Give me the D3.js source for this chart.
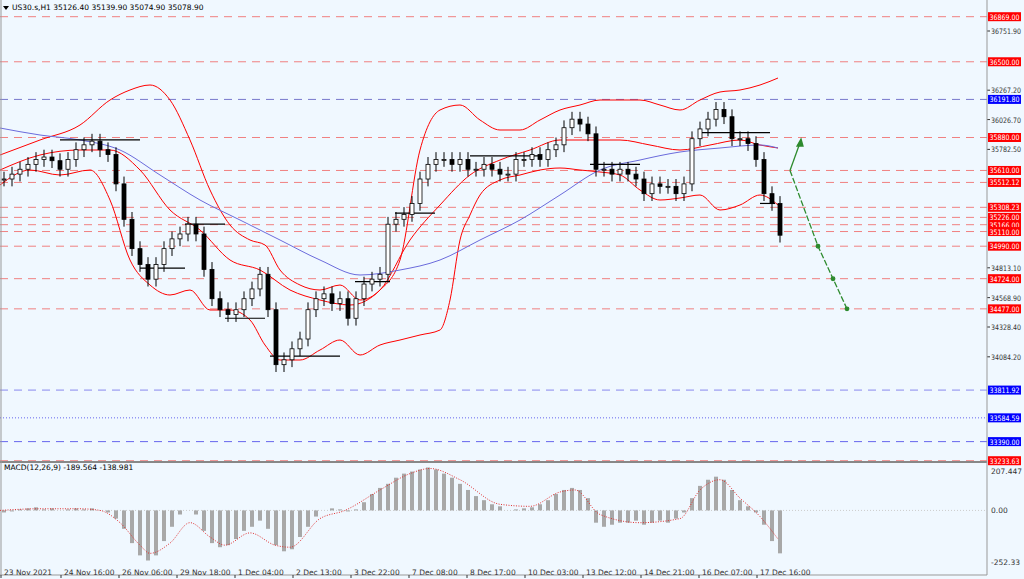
<!DOCTYPE html><html><head><meta charset="utf-8"><script src="https://cdn.jsdelivr.net/npm/d3@7"></script>
<style>body{margin:0;background:#f0f8ff}svg{display:block;font-family:Tahoma,"DejaVu Sans",sans-serif}</style></head><body><svg id="c" width="1024" height="579"></svg><script>
// ---- data ----
const barIdx = d3.range(0, 98);
const closes = [35540,35580,35620,35660,35700,35720,35690,35620,35700,35780,35820,35850,35780,35740,35500,35210,34970,34840,34720,34840,34970,35050,35090,35170,35090,34800,34560,34470,34430,34470,34560,34640,34760,34470,34020,34060,34150,34230,34470,34560,34600,34520,34560,34400,34560,34680,34720,34760,35170,35210,35250,35340,35540,35660,35700,35700,35660,35700,35620,35620,35660,35620,35580,35580,35700,35700,35740,35700,35780,35820,35960,36030,35990,35910,35620,35620,35580,35620,35580,35540,35420,35500,35480,35480,35420,35500,35870,35950,36030,36110,36050,35870,35870,35830,35700,35420,35340,35080];
const bbUpper = [[0,155],[40,140],[80,125],[110,100],[130,90],[150,85],[170,100],[190,140],[210,190],[230,225],[250,240],[265,245],[280,270],[300,285],[320,290],[340,285],[360,300],[380,290],[400,260],[420,150],[440,110],[460,105],[480,120],[500,130],[520,130],[540,120],[560,110],[580,105],[600,100],[620,100],[640,100],[660,105],[680,110],[700,100],[720,92],[740,90],[760,85],[778,78]];
const bbLower = [[0,185],[30,170],[60,175],[90,170],[110,200],[130,260],[150,285],[170,295],[190,290],[210,310],[230,310],[250,320],[265,345],[280,360],[300,360],[320,350],[340,340],[360,355],[380,345],[400,340],[420,335],[440,330],[450,300],[460,240],[470,215],[480,195],[500,180],[520,175],[540,170],[560,168],[580,170],[600,172],[620,175],[640,190],[660,200],[680,198],[700,195],[720,210],[740,205],[760,195],[778,205]];
const bbMid = [[0,170],[40,155],[80,150],[110,150],[140,170],[170,210],[200,230],[230,260],[260,270],[290,290],[320,300],[350,305],[380,290],[410,240],[440,205],[470,175],[500,160],[530,150],[560,140],[590,140],[620,140],[650,145],[680,150],[710,145],[740,140],[760,145],[778,148]];
const maBlue = [[0,128],[40,135],[80,140],[120,150],[160,175],[200,200],[240,220],[280,240],[320,260],[360,275],[400,270],[440,260],[480,240],[520,220],[560,195],[600,170],[640,160],[680,152],[720,148],[760,145],[778,148]];
const fractals = [[60,140,35860],[140,185,34810],[185,225,35170],[225,265,34400],[270,340,34090],[355,390,34700],[395,435,35260],[470,540,35730],[590,640,35660],[700,770,35920],[760,775,35340]];
const levels = [[36869,"#f08080","8,6","#ff0000"],[36500,"#f08080","8,6","#ff0000"],[36191.80,"#7777cc","8,6","#0000ff"],[35880,"#f08080","8,6","#ff0000"],[35610,"#f08080","8,6","#ff0000"],[35512.12,"#f08080","8,6","#ff0000"],[35308.23,"#f08080","8,6","#ff0000"],[35226,"#f08080","8,6","#ff0000"],[35166,"#f08080","8,6","#ff0000"],[35110,"#f08080","8,6","#ff0000"],[34990,"#f08080","8,6","#ff0000"],[34724,"#f08080","8,6","#ff0000"],[34477,"#f08080","8,6","#ff0000"],[33811.92,"#8888ee","8,6","#0000ff"],[33584.59,"#6666ee","1,2","#0000ff"],[33390,"#6666ee","8,6","#0000ff"],[33233.63,"#f08080","8,6","#ff0000"]];
const priceTicks = ["36751.90","36267.20","36026.70","35782.50","34813.10","34568.90","34328.40","34084.20"];
const macdHist = [-10,-5,5,10,15,5,10,0,5,10,5,10,0,-10,-40,-90,-160,-220,-245,-220,-150,-80,-20,0,-20,-100,-160,-180,-170,-140,-100,-80,-50,-90,-170,-200,-190,-130,-80,-30,0,10,5,-5,5,40,80,110,130,160,180,190,200,210,200,180,160,130,100,70,50,30,20,0,5,10,15,30,50,80,100,110,100,60,-60,-80,-70,-60,-60,-50,-70,-60,-50,-60,-40,-10,60,120,150,165,150,100,50,20,-10,-70,-150,-210];
const macdSignal = [[0,0],[40,8],[80,8],[100,0],[120,-60],[140,-170],[150,-210],[170,-160],[190,-60],[210,-130],[225,-170],[250,-110],[275,-170],[290,-180],[320,-40],[345,0],[380,100],[410,180],[430,205],[460,150],[500,30],[530,20],[560,90],[575,100],[600,-20],[640,-60],[680,-40],[700,100],[720,150],[740,60],[760,-30],[778,-140]];
const dateLabels = [["23 Nov 2021",0],["24 Nov 16:00",60],["26 Nov 06:00",118],["29 Nov 18:00",176],["1 Dec 04:00",234],["2 Dec 13:00",292],["3 Dec 22:00",350],["7 Dec 08:00",408],["8 Dec 17:00",466],["10 Dec 03:00",524],["13 Dec 12:00",582],["14 Dec 21:00",640],["16 Dec 07:00",698],["17 Dec 16:00",756]];
// ---- scales ----
const svg = d3.select("#c");
const y = d3.scaleLinear().domain([36751.9,34328.4]).range([31,327]);
const pFromPix = d3.scaleLinear().domain([31,327]).range([36751.9,34328.4]);
const x = d3.scaleLinear().domain([0,97]).range([4,780]);
const ym = d3.scaleLinear().domain([207.447,-252.33]).range([468,562]);
const W=987;
svg.append("rect").attr("width",1024).attr("height",579).attr("fill","#f0f8ff");
levels.forEach(l=>{const yy=y(l[0]);
 svg.append("line").attr("x1",0).attr("x2",W).attr("y1",yy).attr("y2",yy).attr("stroke",l[1]).attr("stroke-dasharray",l[2]);
 svg.append("rect").attr("x",W+1).attr("y",yy-4.5).attr("width",33).attr("height",9).attr("fill",l[3]);
 svg.append("text").attr("x",W+2.5).attr("y",yy+3).attr("font-size",7.5).attr("textLength",30).attr("lengthAdjust","spacingAndGlyphs").attr("fill","#fff").text(l[0].toFixed(2));});
priceTicks.forEach(t=>{const yy=y(+t);
 svg.append("line").attr("x1",W).attr("x2",W+3).attr("y1",yy).attr("y2",yy).attr("stroke","#333");
 svg.append("text").attr("x",W+4).attr("y",yy+3).attr("font-size",7.5).attr("textLength",30).attr("lengthAdjust","spacingAndGlyphs").attr("fill","#333").text(t);});
const ln = d3.line().x(d=>d[0]).y(d=>y(pFromPix(d[1]))).curve(d3.curveMonotoneX);
[[bbUpper,"#ff0000"],[bbLower,"#ff0000"],[bbMid,"#ff0000"],[maBlue,"#6b6bdc"]].forEach(s=>svg.append("path").attr("d",ln(s[0])).attr("fill","none").attr("stroke",s[1]).attr("stroke-width",1));
fractals.forEach(f=>svg.append("line").attr("x1",f[0]).attr("x2",f[1]).attr("y1",y(f[2])).attr("y2",y(f[2])).attr("stroke","#000").attr("stroke-width",1.2));
closes.forEach((c,i)=>{const o=i?closes[i-1]:c; const hi=Math.max(o,c)+60, lo=Math.min(o,c)-60; const xx=x(barIdx[i]);
 svg.append("line").attr("x1",xx).attr("x2",xx).attr("y1",y(hi)).attr("y2",y(lo)).attr("stroke","#000");
 svg.append("rect").attr("x",xx-2).attr("width",4).attr("y",y(Math.max(o,c))).attr("height",Math.max(1,Math.abs(y(o)-y(c)))).attr("fill",c>=o?"#fff":"#000").attr("stroke","#000").attr("stroke-width",0.8);});
const g=svg.append("g").attr("stroke","#2e8b2e").attr("stroke-width",1.3).attr("fill","#2e8b2e");
g.append("line").attr("x1",790).attr("y1",y(35610)).attr("x2",801).attr("y2",y(35860));
g.append("path").attr("d","M801,139 l-4,7 l6,0 z");
g.append("polyline").attr("points",[[790,y(35610)],[818,y(34990)],[833,y(34724)],[847,y(34477)]].join(" ")).attr("fill","none").attr("stroke-dasharray","6,2");
[[818,y(34990)],[833,y(34724)],[847,y(34477)]].forEach(p=>g.append("circle").attr("cx",p[0]).attr("cy",p[1]).attr("r",1.8));
svg.append("path").attr("d","M3,6 l6,0 l-3,4 z").attr("fill","#000");
svg.append("text").attr("x",12).attr("y",10).attr("font-size",7.5).attr("fill","#000").text("US30.s,H1  35126.40 35139.90 35074.90 35078.90");
svg.append("line").attr("x1",0).attr("x2",W).attr("y1",462).attr("y2",462).attr("stroke","#888").attr("stroke-width",2);
svg.append("line").attr("x1",W).attr("x2",W).attr("y1",0).attr("y2",575).attr("stroke","#999");
svg.append("line").attr("x1",0).attr("x2",W).attr("y1",575).attr("y2",575).attr("stroke","#999");
svg.append("line").attr("x1",1).attr("x2",1).attr("y1",0).attr("y2",575).attr("stroke","#999");
svg.append("line").attr("x1",0).attr("x2",W).attr("y1",ym(0)).attr("y2",ym(0)).attr("stroke","#ccc").attr("stroke-dasharray","1,2");
macdHist.forEach((v,i)=>svg.append("rect").attr("x",x(i)-2).attr("width",4).attr("y",Math.min(ym(v),ym(0))).attr("height",Math.abs(ym(v)-ym(0))).attr("fill","#a8a8a8"));
svg.append("path").attr("d",d3.line().x(d=>d[0]).y(d=>ym(d[1])).curve(d3.curveMonotoneX)(macdSignal)).attr("fill","none").attr("stroke","#e03030").attr("stroke-dasharray","1,1.5");
svg.append("text").attr("x",4).attr("y",470).attr("font-size",7.5).text("MACD(12,26,9) -189.564 -138.981");
[["207.447",207.447],["0.00",0],["-252.33",-252.33]].forEach(t=>svg.append("text").attr("x",W+4).attr("y",ym(t[1])+(t[1]>200?6:3)).attr("font-size",7.5).attr("fill","#333").text(t[0]));
dateLabels.forEach(d=>{svg.append("line").attr("x1",d[1]+1).attr("x2",d[1]+1).attr("y1",575).attr("y2",578).attr("stroke","#333");
 svg.append("text").attr("x",d[1]+4).attr("y",575).attr("font-size",7.5).attr("fill","#333").text(d[0]);});
</script></body></html>
